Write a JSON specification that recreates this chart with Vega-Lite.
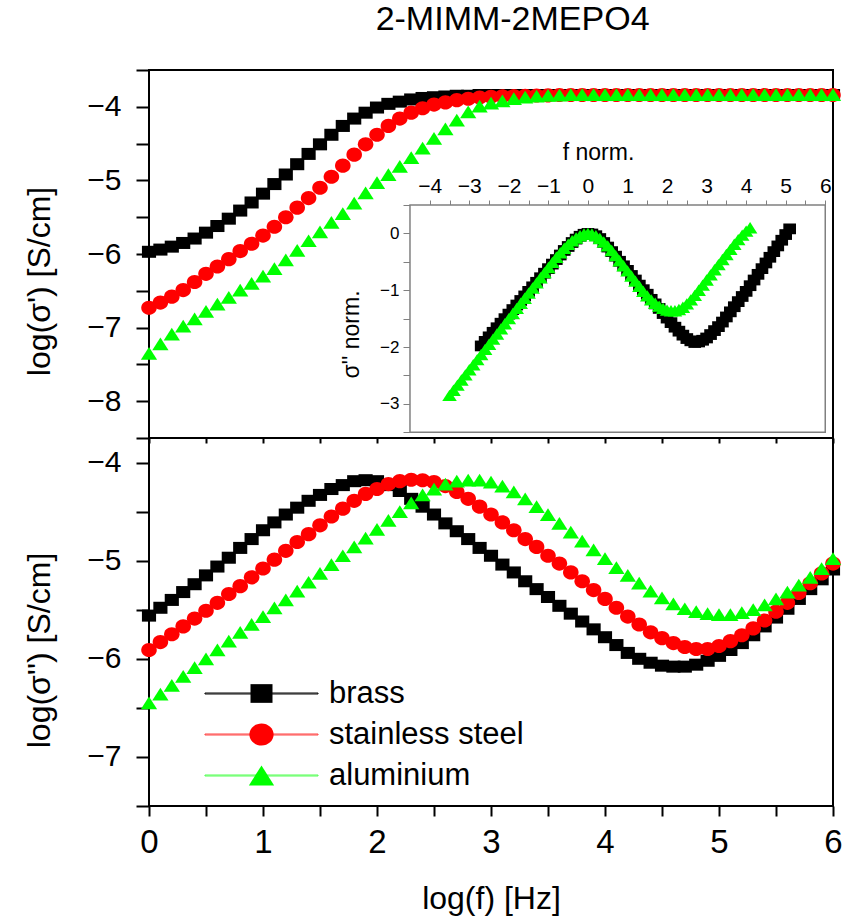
{
  "$schema": "https://vega.github.io/schema/vega-lite/v6.json",
  "padding": {"left": 22, "top": 3, "right": 8, "bottom": 4},
  "config": {
    "font": "Liberation Sans",
    "view": {"stroke": "#000000", "strokeWidth": 2},
    "concat": {"spacing": 0},
    "axis": {"grid": false, "domain": false, "labelFont": "Liberation Sans", "titleFont": "Liberation Sans", "titleFontWeight": "normal", "labelColor": "#000000", "titleColor": "#000000", "tickColor": "#000000", "labelFlush": false, "labelOverlap": false, "tickMinStep": 0.5}
  },
  "title": {"text": "2-MIMM-2MEPO4", "font": "Liberation Sans", "fontSize": 34, "fontWeight": "normal", "anchor": "middle", "dx": 80, "offset": 17, "color": "#000000"},
  "datasets": {
    "main": [
      {"series":"brass","logf":0,"sp":-5.97,"spp":-5.56},{"series":"brass","logf":0.1,"sp":-5.94,"spp":-5.48},{"series":"brass","logf":0.2,"sp":-5.90,"spp":-5.40},{"series":"brass","logf":0.3,"sp":-5.85,"spp":-5.32},{"series":"brass","logf":0.4,"sp":-5.79,"spp":-5.24},{"series":"brass","logf":0.5,"sp":-5.71,"spp":-5.15},{"series":"brass","logf":0.6,"sp":-5.62,"spp":-5.06},{"series":"brass","logf":0.7,"sp":-5.52,"spp":-4.97},{"series":"brass","logf":0.8,"sp":-5.41,"spp":-4.87},{"series":"brass","logf":0.9,"sp":-5.30,"spp":-4.78},
      {"series":"brass","logf":1.0,"sp":-5.18,"spp":-4.69},{"series":"brass","logf":1.1,"sp":-5.05,"spp":-4.61},{"series":"brass","logf":1.2,"sp":-4.92,"spp":-4.53},{"series":"brass","logf":1.3,"sp":-4.78,"spp":-4.46},{"series":"brass","logf":1.4,"sp":-4.64,"spp":-4.39},{"series":"brass","logf":1.5,"sp":-4.51,"spp":-4.33},{"series":"brass","logf":1.6,"sp":-4.38,"spp":-4.27},{"series":"brass","logf":1.7,"sp":-4.26,"spp":-4.23},{"series":"brass","logf":1.8,"sp":-4.16,"spp":-4.19},{"series":"brass","logf":1.9,"sp":-4.08,"spp":-4.18},
      {"series":"brass","logf":2.0,"sp":-4.01,"spp":-4.19},{"series":"brass","logf":2.1,"sp":-3.96,"spp":-4.23},{"series":"brass","logf":2.2,"sp":-3.93,"spp":-4.29},{"series":"brass","logf":2.3,"sp":-3.90,"spp":-4.37},{"series":"brass","logf":2.4,"sp":-3.88,"spp":-4.45},{"series":"brass","logf":2.5,"sp":-3.87,"spp":-4.53},{"series":"brass","logf":2.6,"sp":-3.86,"spp":-4.62},{"series":"brass","logf":2.7,"sp":-3.85,"spp":-4.70},{"series":"brass","logf":2.8,"sp":-3.85,"spp":-4.78},{"series":"brass","logf":2.9,"sp":-3.84,"spp":-4.87},
      {"series":"brass","logf":3.0,"sp":-3.84,"spp":-4.95},{"series":"brass","logf":3.1,"sp":-3.84,"spp":-5.04},{"series":"brass","logf":3.2,"sp":-3.84,"spp":-5.12},{"series":"brass","logf":3.3,"sp":-3.84,"spp":-5.21},{"series":"brass","logf":3.4,"sp":-3.84,"spp":-5.29},{"series":"brass","logf":3.5,"sp":-3.84,"spp":-5.37},{"series":"brass","logf":3.6,"sp":-3.84,"spp":-5.46},{"series":"brass","logf":3.7,"sp":-3.84,"spp":-5.54},{"series":"brass","logf":3.8,"sp":-3.84,"spp":-5.62},{"series":"brass","logf":3.9,"sp":-3.84,"spp":-5.70},
      {"series":"brass","logf":4.0,"sp":-3.84,"spp":-5.78},{"series":"brass","logf":4.1,"sp":-3.84,"spp":-5.86},{"series":"brass","logf":4.2,"sp":-3.84,"spp":-5.94},{"series":"brass","logf":4.3,"sp":-3.84,"spp":-6.00},{"series":"brass","logf":4.4,"sp":-3.84,"spp":-6.04},{"series":"brass","logf":4.5,"sp":-3.84,"spp":-6.07},{"series":"brass","logf":4.6,"sp":-3.84,"spp":-6.08},{"series":"brass","logf":4.7,"sp":-3.84,"spp":-6.08},{"series":"brass","logf":4.8,"sp":-3.84,"spp":-6.06},{"series":"brass","logf":4.9,"sp":-3.84,"spp":-6.02},
      {"series":"brass","logf":5.0,"sp":-3.84,"spp":-5.97},{"series":"brass","logf":5.1,"sp":-3.84,"spp":-5.91},{"series":"brass","logf":5.2,"sp":-3.84,"spp":-5.84},{"series":"brass","logf":5.3,"sp":-3.84,"spp":-5.76},{"series":"brass","logf":5.4,"sp":-3.84,"spp":-5.67},{"series":"brass","logf":5.5,"sp":-3.84,"spp":-5.58},{"series":"brass","logf":5.6,"sp":-3.84,"spp":-5.49},{"series":"brass","logf":5.7,"sp":-3.84,"spp":-5.39},{"series":"brass","logf":5.8,"sp":-3.84,"spp":-5.29},{"series":"brass","logf":5.9,"sp":-3.84,"spp":-5.19},{"series":"brass","logf":6.0,"sp":-3.84,"spp":-5.09},
      {"series":"stainless steel","logf":0,"sp":-6.73,"spp":-5.91},{"series":"stainless steel","logf":0.1,"sp":-6.66,"spp":-5.83},{"series":"stainless steel","logf":0.2,"sp":-6.58,"spp":-5.75},{"series":"stainless steel","logf":0.3,"sp":-6.49,"spp":-5.67},{"series":"stainless steel","logf":0.4,"sp":-6.38,"spp":-5.59},{"series":"stainless steel","logf":0.5,"sp":-6.27,"spp":-5.51},{"series":"stainless steel","logf":0.6,"sp":-6.17,"spp":-5.43},{"series":"stainless steel","logf":0.7,"sp":-6.07,"spp":-5.34},{"series":"stainless steel","logf":0.8,"sp":-5.96,"spp":-5.26},{"series":"stainless steel","logf":0.9,"sp":-5.86,"spp":-5.17},
      {"series":"stainless steel","logf":1.0,"sp":-5.75,"spp":-5.08},{"series":"stainless steel","logf":1.1,"sp":-5.63,"spp":-4.99},{"series":"stainless steel","logf":1.2,"sp":-5.50,"spp":-4.90},{"series":"stainless steel","logf":1.3,"sp":-5.37,"spp":-4.81},{"series":"stainless steel","logf":1.4,"sp":-5.24,"spp":-4.73},{"series":"stainless steel","logf":1.5,"sp":-5.10,"spp":-4.64},{"series":"stainless steel","logf":1.6,"sp":-4.95,"spp":-4.55},{"series":"stainless steel","logf":1.7,"sp":-4.80,"spp":-4.47},{"series":"stainless steel","logf":1.8,"sp":-4.65,"spp":-4.39},{"series":"stainless steel","logf":1.9,"sp":-4.51,"spp":-4.32},
      {"series":"stainless steel","logf":2.0,"sp":-4.38,"spp":-4.27},{"series":"stainless steel","logf":2.1,"sp":-4.26,"spp":-4.22},{"series":"stainless steel","logf":2.2,"sp":-4.16,"spp":-4.19},{"series":"stainless steel","logf":2.3,"sp":-4.08,"spp":-4.175},{"series":"stainless steel","logf":2.4,"sp":-4.02,"spp":-4.18},{"series":"stainless steel","logf":2.5,"sp":-3.97,"spp":-4.20},{"series":"stainless steel","logf":2.6,"sp":-3.94,"spp":-4.24},{"series":"stainless steel","logf":2.7,"sp":-3.91,"spp":-4.30},{"series":"stainless steel","logf":2.8,"sp":-3.89,"spp":-4.37},{"series":"stainless steel","logf":2.9,"sp":-3.875,"spp":-4.45},
      {"series":"stainless steel","logf":3.0,"sp":-3.865,"spp":-4.53},{"series":"stainless steel","logf":3.1,"sp":-3.858,"spp":-4.61},{"series":"stainless steel","logf":3.2,"sp":-3.853,"spp":-4.69},{"series":"stainless steel","logf":3.3,"sp":-3.85,"spp":-4.78},{"series":"stainless steel","logf":3.4,"sp":-3.847,"spp":-4.86},{"series":"stainless steel","logf":3.5,"sp":-3.845,"spp":-4.95},{"series":"stainless steel","logf":3.6,"sp":-3.84,"spp":-5.03},{"series":"stainless steel","logf":3.7,"sp":-3.84,"spp":-5.12},{"series":"stainless steel","logf":3.8,"sp":-3.84,"spp":-5.21},{"series":"stainless steel","logf":3.9,"sp":-3.84,"spp":-5.30},
      {"series":"stainless steel","logf":4.0,"sp":-3.84,"spp":-5.39},{"series":"stainless steel","logf":4.1,"sp":-3.84,"spp":-5.48},{"series":"stainless steel","logf":4.2,"sp":-3.84,"spp":-5.57},{"series":"stainless steel","logf":4.3,"sp":-3.84,"spp":-5.65},{"series":"stainless steel","logf":4.4,"sp":-3.84,"spp":-5.73},{"series":"stainless steel","logf":4.5,"sp":-3.84,"spp":-5.79},{"series":"stainless steel","logf":4.6,"sp":-3.84,"spp":-5.84},{"series":"stainless steel","logf":4.7,"sp":-3.84,"spp":-5.88},{"series":"stainless steel","logf":4.8,"sp":-3.84,"spp":-5.90},{"series":"stainless steel","logf":4.9,"sp":-3.84,"spp":-5.90},
      {"series":"stainless steel","logf":5.0,"sp":-3.84,"spp":-5.87},{"series":"stainless steel","logf":5.1,"sp":-3.84,"spp":-5.82},{"series":"stainless steel","logf":5.2,"sp":-3.84,"spp":-5.76},{"series":"stainless steel","logf":5.3,"sp":-3.84,"spp":-5.69},{"series":"stainless steel","logf":5.4,"sp":-3.84,"spp":-5.61},{"series":"stainless steel","logf":5.5,"sp":-3.84,"spp":-5.52},{"series":"stainless steel","logf":5.6,"sp":-3.84,"spp":-5.43},{"series":"stainless steel","logf":5.7,"sp":-3.84,"spp":-5.33},{"series":"stainless steel","logf":5.8,"sp":-3.84,"spp":-5.23},{"series":"stainless steel","logf":5.9,"sp":-3.84,"spp":-5.13},{"series":"stainless steel","logf":6.0,"sp":-3.84,"spp":-5.03},
      {"series":"aluminium","logf":0,"sp":-7.35,"spp":-6.45},{"series":"aluminium","logf":0.1,"sp":-7.22,"spp":-6.36},{"series":"aluminium","logf":0.2,"sp":-7.09,"spp":-6.27},{"series":"aluminium","logf":0.3,"sp":-6.98,"spp":-6.18},{"series":"aluminium","logf":0.4,"sp":-6.88,"spp":-6.09},{"series":"aluminium","logf":0.5,"sp":-6.78,"spp":-6.00},{"series":"aluminium","logf":0.6,"sp":-6.68,"spp":-5.91},{"series":"aluminium","logf":0.7,"sp":-6.59,"spp":-5.82},{"series":"aluminium","logf":0.8,"sp":-6.49,"spp":-5.73},{"series":"aluminium","logf":0.9,"sp":-6.40,"spp":-5.65},
      {"series":"aluminium","logf":1.0,"sp":-6.30,"spp":-5.57},{"series":"aluminium","logf":1.1,"sp":-6.20,"spp":-5.48},{"series":"aluminium","logf":1.2,"sp":-6.08,"spp":-5.40},{"series":"aluminium","logf":1.3,"sp":-5.95,"spp":-5.31},{"series":"aluminium","logf":1.4,"sp":-5.82,"spp":-5.22},{"series":"aluminium","logf":1.5,"sp":-5.70,"spp":-5.13},{"series":"aluminium","logf":1.6,"sp":-5.57,"spp":-5.04},{"series":"aluminium","logf":1.7,"sp":-5.45,"spp":-4.95},{"series":"aluminium","logf":1.8,"sp":-5.31,"spp":-4.86},{"series":"aluminium","logf":1.9,"sp":-5.17,"spp":-4.77},
      {"series":"aluminium","logf":2.0,"sp":-5.03,"spp":-4.68},{"series":"aluminium","logf":2.1,"sp":-4.92,"spp":-4.59},{"series":"aluminium","logf":2.2,"sp":-4.81,"spp":-4.50},{"series":"aluminium","logf":2.3,"sp":-4.69,"spp":-4.41},{"series":"aluminium","logf":2.4,"sp":-4.56,"spp":-4.33},{"series":"aluminium","logf":2.5,"sp":-4.43,"spp":-4.27},{"series":"aluminium","logf":2.6,"sp":-4.30,"spp":-4.22},{"series":"aluminium","logf":2.7,"sp":-4.18,"spp":-4.19},{"series":"aluminium","logf":2.8,"sp":-4.07,"spp":-4.18},{"series":"aluminium","logf":2.9,"sp":-3.99,"spp":-4.18},
      {"series":"aluminium","logf":3.0,"sp":-3.95,"spp":-4.20},{"series":"aluminium","logf":3.1,"sp":-3.92,"spp":-4.24},{"series":"aluminium","logf":3.2,"sp":-3.89,"spp":-4.30},{"series":"aluminium","logf":3.3,"sp":-3.87,"spp":-4.37},{"series":"aluminium","logf":3.4,"sp":-3.855,"spp":-4.45},{"series":"aluminium","logf":3.5,"sp":-3.845,"spp":-4.53},{"series":"aluminium","logf":3.6,"sp":-3.84,"spp":-4.62},{"series":"aluminium","logf":3.7,"sp":-3.835,"spp":-4.71},{"series":"aluminium","logf":3.8,"sp":-3.835,"spp":-4.80},{"series":"aluminium","logf":3.9,"sp":-3.835,"spp":-4.89},
      {"series":"aluminium","logf":4.0,"sp":-3.835,"spp":-4.98},{"series":"aluminium","logf":4.1,"sp":-3.835,"spp":-5.07},{"series":"aluminium","logf":4.2,"sp":-3.835,"spp":-5.15},{"series":"aluminium","logf":4.3,"sp":-3.835,"spp":-5.23},{"series":"aluminium","logf":4.4,"sp":-3.835,"spp":-5.31},{"series":"aluminium","logf":4.5,"sp":-3.835,"spp":-5.38},{"series":"aluminium","logf":4.6,"sp":-3.835,"spp":-5.44},{"series":"aluminium","logf":4.7,"sp":-3.835,"spp":-5.49},{"series":"aluminium","logf":4.8,"sp":-3.835,"spp":-5.52},{"series":"aluminium","logf":4.9,"sp":-3.835,"spp":-5.54},
      {"series":"aluminium","logf":5.0,"sp":-3.835,"spp":-5.55},{"series":"aluminium","logf":5.1,"sp":-3.835,"spp":-5.55},{"series":"aluminium","logf":5.2,"sp":-3.835,"spp":-5.53},{"series":"aluminium","logf":5.3,"sp":-3.835,"spp":-5.50},{"series":"aluminium","logf":5.4,"sp":-3.835,"spp":-5.45},{"series":"aluminium","logf":5.5,"sp":-3.835,"spp":-5.39},{"series":"aluminium","logf":5.6,"sp":-3.835,"spp":-5.32},{"series":"aluminium","logf":5.7,"sp":-3.835,"spp":-5.25},{"series":"aluminium","logf":5.8,"sp":-3.835,"spp":-5.17},{"series":"aluminium","logf":5.9,"sp":-3.835,"spp":-5.08},{"series":"aluminium","logf":6.0,"sp":-3.835,"spp":-4.98}
    ],
    "inset": [
      {"series":"brass","fn":-2.7,"sn":-1.98},{"series":"brass","fn":-2.6,"sn":-1.90},{"series":"brass","fn":-2.5,"sn":-1.82},{"series":"brass","fn":-2.4,"sn":-1.74},{"series":"brass","fn":-2.3,"sn":-1.66},{"series":"brass","fn":-2.2,"sn":-1.58},{"series":"brass","fn":-2.1,"sn":-1.50},{"series":"brass","fn":-2.0,"sn":-1.42},{"series":"brass","fn":-1.9,"sn":-1.34},{"series":"brass","fn":-1.8,"sn":-1.26},
      {"series":"brass","fn":-1.7,"sn":-1.18},{"series":"brass","fn":-1.6,"sn":-1.10},{"series":"brass","fn":-1.5,"sn":-1.02},{"series":"brass","fn":-1.4,"sn":-0.94},{"series":"brass","fn":-1.3,"sn":-0.86},{"series":"brass","fn":-1.2,"sn":-0.78},{"series":"brass","fn":-1.1,"sn":-0.70},{"series":"brass","fn":-1.0,"sn":-0.62},{"series":"brass","fn":-0.9,"sn":-0.54},{"series":"brass","fn":-0.8,"sn":-0.46},
      {"series":"brass","fn":-0.7,"sn":-0.38},{"series":"brass","fn":-0.6,"sn":-0.30},{"series":"brass","fn":-0.5,"sn":-0.23},{"series":"brass","fn":-0.4,"sn":-0.16},{"series":"brass","fn":-0.3,"sn":-0.10},{"series":"brass","fn":-0.2,"sn":-0.05},{"series":"brass","fn":-0.1,"sn":-0.015},{"series":"brass","fn":0,"sn":0},{"series":"brass","fn":0.1,"sn":-0.01},{"series":"brass","fn":0.2,"sn":-0.04},
      {"series":"brass","fn":0.3,"sn":-0.09},{"series":"brass","fn":0.4,"sn":-0.16},{"series":"brass","fn":0.5,"sn":-0.24},{"series":"brass","fn":0.6,"sn":-0.32},{"series":"brass","fn":0.7,"sn":-0.40},{"series":"brass","fn":0.8,"sn":-0.49},{"series":"brass","fn":0.9,"sn":-0.57},{"series":"brass","fn":1.0,"sn":-0.65},{"series":"brass","fn":1.1,"sn":-0.74},{"series":"brass","fn":1.2,"sn":-0.82},
      {"series":"brass","fn":1.3,"sn":-0.91},{"series":"brass","fn":1.4,"sn":-0.99},{"series":"brass","fn":1.5,"sn":-1.07},{"series":"brass","fn":1.6,"sn":-1.16},{"series":"brass","fn":1.7,"sn":-1.24},{"series":"brass","fn":1.8,"sn":-1.32},{"series":"brass","fn":1.9,"sn":-1.41},{"series":"brass","fn":2.0,"sn":-1.49},{"series":"brass","fn":2.1,"sn":-1.57},{"series":"brass","fn":2.2,"sn":-1.65},
      {"series":"brass","fn":2.3,"sn":-1.72},{"series":"brass","fn":2.4,"sn":-1.79},{"series":"brass","fn":2.5,"sn":-1.85},{"series":"brass","fn":2.6,"sn":-1.89},{"series":"brass","fn":2.7,"sn":-1.92},{"series":"brass","fn":2.8,"sn":-1.91},{"series":"brass","fn":2.9,"sn":-1.88},{"series":"brass","fn":3.0,"sn":-1.84},{"series":"brass","fn":3.1,"sn":-1.78},{"series":"brass","fn":3.2,"sn":-1.71},
      {"series":"brass","fn":3.3,"sn":-1.64},{"series":"brass","fn":3.4,"sn":-1.56},{"series":"brass","fn":3.5,"sn":-1.47},{"series":"brass","fn":3.6,"sn":-1.38},{"series":"brass","fn":3.7,"sn":-1.29},{"series":"brass","fn":3.8,"sn":-1.20},{"series":"brass","fn":3.9,"sn":-1.11},{"series":"brass","fn":4.0,"sn":-1.02},{"series":"brass","fn":4.1,"sn":-0.92},{"series":"brass","fn":4.2,"sn":-0.82},
      {"series":"brass","fn":4.3,"sn":-0.72},{"series":"brass","fn":4.4,"sn":-0.62},{"series":"brass","fn":4.5,"sn":-0.52},{"series":"brass","fn":4.6,"sn":-0.42},{"series":"brass","fn":4.7,"sn":-0.32},{"series":"brass","fn":4.8,"sn":-0.22},{"series":"brass","fn":4.9,"sn":-0.12},{"series":"brass","fn":5.0,"sn":-0.02},{"series":"brass","fn":5.1,"sn":0.08},
      {"series":"aluminium","fn":-3.5,"sn":-2.85},{"series":"aluminium","fn":-3.4,"sn":-2.76},{"series":"aluminium","fn":-3.3,"sn":-2.67},{"series":"aluminium","fn":-3.2,"sn":-2.58},{"series":"aluminium","fn":-3.1,"sn":-2.49},{"series":"aluminium","fn":-3.0,"sn":-2.40},{"series":"aluminium","fn":-2.9,"sn":-2.31},{"series":"aluminium","fn":-2.8,"sn":-2.22},{"series":"aluminium","fn":-2.7,"sn":-2.13},{"series":"aluminium","fn":-2.6,"sn":-2.04},
      {"series":"aluminium","fn":-2.5,"sn":-1.95},{"series":"aluminium","fn":-2.4,"sn":-1.86},{"series":"aluminium","fn":-2.3,"sn":-1.77},{"series":"aluminium","fn":-2.2,"sn":-1.68},{"series":"aluminium","fn":-2.1,"sn":-1.59},{"series":"aluminium","fn":-2.0,"sn":-1.50},{"series":"aluminium","fn":-1.9,"sn":-1.41},{"series":"aluminium","fn":-1.8,"sn":-1.32},{"series":"aluminium","fn":-1.7,"sn":-1.23},{"series":"aluminium","fn":-1.6,"sn":-1.14},
      {"series":"aluminium","fn":-1.5,"sn":-1.05},{"series":"aluminium","fn":-1.4,"sn":-0.96},{"series":"aluminium","fn":-1.3,"sn":-0.87},{"series":"aluminium","fn":-1.2,"sn":-0.78},{"series":"aluminium","fn":-1.1,"sn":-0.69},{"series":"aluminium","fn":-1.0,"sn":-0.60},{"series":"aluminium","fn":-0.9,"sn":-0.51},{"series":"aluminium","fn":-0.8,"sn":-0.42},{"series":"aluminium","fn":-0.7,"sn":-0.34},{"series":"aluminium","fn":-0.6,"sn":-0.26},
      {"series":"aluminium","fn":-0.5,"sn":-0.19},{"series":"aluminium","fn":-0.4,"sn":-0.13},{"series":"aluminium","fn":-0.3,"sn":-0.08},{"series":"aluminium","fn":-0.2,"sn":-0.04},{"series":"aluminium","fn":-0.1,"sn":-0.01},{"series":"aluminium","fn":0,"sn":0},{"series":"aluminium","fn":0.1,"sn":-0.01},{"series":"aluminium","fn":0.2,"sn":-0.04},{"series":"aluminium","fn":0.3,"sn":-0.09},{"series":"aluminium","fn":0.4,"sn":-0.15},
      {"series":"aluminium","fn":0.5,"sn":-0.22},{"series":"aluminium","fn":0.6,"sn":-0.30},{"series":"aluminium","fn":0.7,"sn":-0.39},{"series":"aluminium","fn":0.8,"sn":-0.48},{"series":"aluminium","fn":0.9,"sn":-0.57},{"series":"aluminium","fn":1.0,"sn":-0.66},{"series":"aluminium","fn":1.1,"sn":-0.75},{"series":"aluminium","fn":1.2,"sn":-0.84},{"series":"aluminium","fn":1.3,"sn":-0.93},{"series":"aluminium","fn":1.4,"sn":-1.02},
      {"series":"aluminium","fn":1.5,"sn":-1.10},{"series":"aluminium","fn":1.6,"sn":-1.17},{"series":"aluminium","fn":1.7,"sn":-1.23},{"series":"aluminium","fn":1.8,"sn":-1.28},{"series":"aluminium","fn":1.9,"sn":-1.32},{"series":"aluminium","fn":2.0,"sn":-1.35},{"series":"aluminium","fn":2.1,"sn":-1.36},{"series":"aluminium","fn":2.2,"sn":-1.36},{"series":"aluminium","fn":2.3,"sn":-1.34},{"series":"aluminium","fn":2.4,"sn":-1.30},
      {"series":"aluminium","fn":2.5,"sn":-1.24},{"series":"aluminium","fn":2.6,"sn":-1.17},{"series":"aluminium","fn":2.7,"sn":-1.09},{"series":"aluminium","fn":2.8,"sn":-1.00},{"series":"aluminium","fn":2.9,"sn":-0.91},{"series":"aluminium","fn":3.0,"sn":-0.82},{"series":"aluminium","fn":3.1,"sn":-0.73},{"series":"aluminium","fn":3.2,"sn":-0.64},{"series":"aluminium","fn":3.3,"sn":-0.55},{"series":"aluminium","fn":3.4,"sn":-0.46},
      {"series":"aluminium","fn":3.5,"sn":-0.37},{"series":"aluminium","fn":3.6,"sn":-0.28},{"series":"aluminium","fn":3.7,"sn":-0.19},{"series":"aluminium","fn":3.8,"sn":-0.11},{"series":"aluminium","fn":3.9,"sn":-0.03},{"series":"aluminium","fn":4.0,"sn":0.04},{"series":"aluminium","fn":4.1,"sn":0.10}
    ]
  },
  "bounds": "flush",
  "spacing": 0,
  "resolve": {"scale": {"color": "independent", "shape": "independent", "stroke": "independent", "x": "independent", "y": "independent"}, "legend": {"color": "independent", "shape": "independent", "stroke": "independent"}},
  "vconcat": [
    {
      "width": 684,
      "height": 368,
      "layer": [
        {
          "data": {"name": "main"},
          "mark": {"type": "point", "filled": true, "opacity": 1, "size": 200},
          "encoding": {
            "x": {"field": "logf", "type": "quantitative", "scale": {"domain": [0, 6], "nice": false, "zero": false},
              "axis": {"orient": "bottom", "title": null, "labels": false, "values": [0,0.5,1,1.5,2,2.5,3,3.5,4,4.5,5,5.5,6], "tickCount": 100, "tickMinStep": 0.5, "tickWidth": 2, "tickSize": 5,
                "encode": {"ticks": {"y2": {"value": {"expr": "datum.value % 1 === 0 ? 5 : 3"}}}}}},
            "y": {"field": "sp", "type": "quantitative", "scale": {"domain": [-8.5, -3.5], "nice": false, "zero": false},
              "axis": {"orient": "left", "title": "log(σ') [S/cm]", "titleFontSize": 32, "titleBaseline": "middle", "titleX": -110, "titleY": 211,
                "values": [-8.5,-8,-7.5,-7,-6.5,-6,-5.5,-5,-4.5,-4,-3.5], "tickCount": 100, "tickMinStep": 0.5,
                "labelExpr": "datum.value % 1 === 0 ? format(datum.value, 'd') : ''", "labelFontSize": 30, "labelPadding": 15,
                "tickWidth": 2, "tickSize": 13,
                "encode": {"ticks": {"x2": {"value": {"expr": "datum.value % 1 === 0 ? -13 : -7"}}}}}},
            "color": {"field": "series", "type": "nominal", "legend": null, "scale": {"domain": ["brass", "stainless steel", "aluminium"], "range": ["#000000", "#ff0000", "#00ff00"]}},
            "shape": {"field": "series", "type": "nominal", "legend": null, "scale": {"domain": ["brass", "stainless steel", "aluminium"], "range": ["M-1,-0.85H1V0.85H-1Z", "M-1.1,0A1.1,1 0 1,1 1.1,0A1.1,1 0 1,1 -1.1,0Z", "M0,-0.9L1.15,0.9H-1.15Z"]}}
          }
        },
        {
          "layer": [
            {
              "data": {"values": [{}]},
              "mark": {"type": "rect", "fill": "#ffffff", "stroke": "#808080", "strokeWidth": 1.5},
              "encoding": {
                "x": {"datum": -4.5, "type": "quantitative", "scale": {"domain": [-11.099, 6.196], "nice": false, "zero": false},
                  "axis": {"orient": "top", "offset": -135, "title": "f norm.", "titleFontSize": 23, "titleX": 449, "titleY": -53, "titleBaseline": "middle",
                    "values": [-4,-3.5,-3,-2.5,-2,-1.5,-1,-0.5,0,0.5,1,1.5,2,2.5,3,3.5,4,4.5,5,5.5,6], "tickCount": 100, "tickMinStep": 0.5,
                    "labelExpr": "datum.value % 1 === 0 ? format(datum.value, 'd') : ''", "labelFontSize": 21, "labelPadding": 4,
                    "tickColor": "#808080", "tickWidth": 1, "tickSize": 5,
                    "encode": {"ticks": {"y2": {"value": {"expr": "datum.value % 1 === 0 ? -5 : -3"}}}}}},
                "x2": {"datum": 6},
                "y": {"datum": -3.5, "type": "quantitative", "scale": {"domain": [-3.6, 2.8755], "nice": false, "zero": false},
                  "axis": {"orient": "left", "offset": -261, "title": "σ'' norm.", "titleFontSize": 23, "titleX": -59, "titleY": 264, "titleBaseline": "middle",
                    "values": [-3.5,-3,-2.5,-2,-1.5,-1,-0.5,0,0.5], "tickCount": 100, "tickMinStep": 0.5,
                    "labelExpr": "datum.value % 1 === 0 && datum.value <= 0 ? format(datum.value, 'd') : ''", "labelFontSize": 17, "labelPadding": 4,
                    "tickColor": "#808080", "tickWidth": 1, "tickSize": 7,
                    "encode": {"ticks": {"x2": {"value": {"expr": "datum.value % 1 === 0 ? -7 : -4"}}}}}},
                "y2": {"datum": 0.5}
              }
            },
            {
              "data": {"name": "inset"},
              "mark": {"type": "point", "filled": true, "opacity": 1, "size": 160},
              "encoding": {
                "x": {"field": "fn", "type": "quantitative", "scale": {"domain": [-11.099, 6.196], "nice": false, "zero": false},
                  "axis": {"orient": "top", "offset": -135, "title": "f norm.", "titleFontSize": 23, "titleX": 449, "titleY": -53, "titleBaseline": "middle",
                    "values": [-4,-3.5,-3,-2.5,-2,-1.5,-1,-0.5,0,0.5,1,1.5,2,2.5,3,3.5,4,4.5,5,5.5,6], "tickCount": 100, "tickMinStep": 0.5,
                    "labelExpr": "datum.value % 1 === 0 ? format(datum.value, 'd') : ''", "labelFontSize": 21, "labelPadding": 4,
                    "tickColor": "#808080", "tickWidth": 1, "tickSize": 5,
                    "encode": {"ticks": {"y2": {"value": {"expr": "datum.value % 1 === 0 ? -5 : -3"}}}}}},
                "y": {"field": "sn", "type": "quantitative", "scale": {"domain": [-3.6, 2.8755], "nice": false, "zero": false},
                  "axis": {"orient": "left", "offset": -261, "title": "σ'' norm.", "titleFontSize": 23, "titleX": -59, "titleY": 264, "titleBaseline": "middle",
                    "values": [-3.5,-3,-2.5,-2,-1.5,-1,-0.5,0,0.5], "tickCount": 100, "tickMinStep": 0.5,
                    "labelExpr": "datum.value % 1 === 0 && datum.value <= 0 ? format(datum.value, 'd') : ''", "labelFontSize": 17, "labelPadding": 4,
                    "tickColor": "#808080", "tickWidth": 1, "tickSize": 7,
                    "encode": {"ticks": {"x2": {"value": {"expr": "datum.value % 1 === 0 ? -7 : -4"}}}}}},
                "color": {"field": "series", "type": "nominal", "legend": null, "scale": {"domain": ["brass", "stainless steel", "aluminium"], "range": ["#000000", "#ff0000", "#00ff00"]}},
                "shape": {"field": "series", "type": "nominal", "legend": null, "scale": {"domain": ["brass", "stainless steel", "aluminium"], "range": ["M-1,-0.85H1V0.85H-1Z", "M-1.1,0A1.1,1 0 1,1 1.1,0A1.1,1 0 1,1 -1.1,0Z", "M0,-0.9L1.15,0.9H-1.15Z"]}}
              }
            }
          ]
        }
      ],
      "resolve": {"scale": {"x": "independent", "y": "independent"}}
    },
    {
      "width": 684,
      "height": 368,
      "data": {"name": "main"},
      "encoding": {
        "x": {"field": "logf", "type": "quantitative", "scale": {"domain": [0, 6], "nice": false, "zero": false},
          "axis": {"orient": "bottom", "title": "log(f) [Hz]", "titleFontSize": 32, "titleBaseline": "middle", "titleX": 342, "titleY": 92,
            "values": [0,0.5,1,1.5,2,2.5,3,3.5,4,4.5,5,5.5,6], "tickCount": 100, "tickMinStep": 0.5,
            "labelExpr": "datum.value % 1 === 0 ? format(datum.value, 'd') : ''", "labelFontSize": 33, "labelPadding": 10,
            "tickWidth": 2, "tickSize": 10,
            "encode": {"ticks": {"y2": {"value": {"expr": "datum.value % 1 === 0 ? 10 : 5"}}}}}},
        "y": {"field": "spp", "type": "quantitative", "scale": {"domain": [-7.5, -3.75], "nice": false, "zero": false},
          "axis": {"orient": "left", "title": "log(σ'') [S/cm]", "titleFontSize": 32, "titleBaseline": "middle", "titleX": -110, "titleY": 212,
            "values": [-7.5,-7,-6.5,-6,-5.5,-5,-4.5,-4], "tickCount": 100, "tickMinStep": 0.5,
            "labelExpr": "datum.value % 1 === 0 ? format(datum.value, 'd') : ''", "labelFontSize": 30, "labelPadding": 15,
            "tickWidth": 2, "tickSize": 13,
            "encode": {"ticks": {"x2": {"value": {"expr": "datum.value % 1 === 0 ? -13 : -7"}}}}}}
      },
      "layer": [
        {
          "mark": {"type": "line", "opacity": 0, "strokeWidth": 1},
          "encoding": {
            "stroke": {"field": "series", "type": "nominal",
              "scale": {"domain": ["brass", "stainless steel", "aluminium", "-"], "range": ["#000000", "#ff4040", "#50ff50", "#ffffff"]},
              "legend": {"title": null, "orient": "none", "legendX": 97, "legendY": 240, "padding": 0, "values": ["brass", "stainless steel", "aluminium"],
                "symbolType": "M-5.14,-0.045H5.14V0.045H-5.14Z", "symbolSize": 484, "symbolStrokeWidth": 1, "symbolOpacity": 1, "rowPadding": 9,
                "labelFontSize": 31, "labelFont": "Liberation Sans", "labelOpacity": 0, "labelOffset": 52, "labelLimit": 0, "labelBaseline": "middle"}}
          }
        },
        {
          "mark": {"type": "point", "filled": true, "opacity": 1, "size": 200},
          "encoding": {
            "color": {"field": "series", "type": "nominal",
              "scale": {"domain": ["brass", "stainless steel", "aluminium"], "range": ["#000000", "#ff0000", "#00ff00"]},
              "legend": {"title": null, "orient": "none", "legendX": 97, "legendY": 240, "padding": 0, "symbolSize": 484, "rowPadding": 9, "labelFontSize": 31, "labelFont": "Liberation Sans", "labelColor": "#000000", "labelOffset": 52, "labelLimit": 0, "labelBaseline": "middle"}},
            "shape": {"field": "series", "type": "nominal", "legend": null,
              "scale": {"domain": ["brass", "stainless steel", "aluminium"], "range": ["M-1,-0.85H1V0.85H-1Z", "M-1.1,0A1.1,1 0 1,1 1.1,0A1.1,1 0 1,1 -1.1,0Z", "M0,-0.9L1.15,0.9H-1.15Z"]}}
          }
        }
      ]
    }
  ]
}
